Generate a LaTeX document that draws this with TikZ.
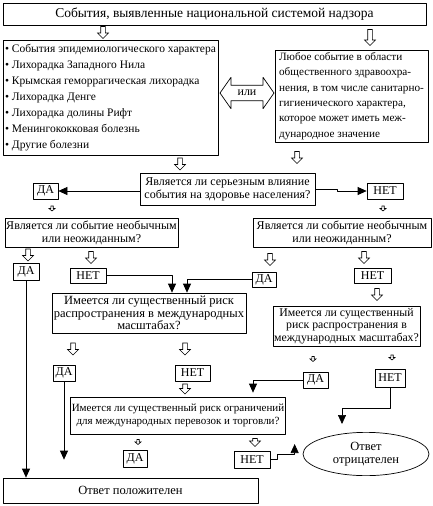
\documentclass[tikz,border=0pt]{standalone}
\usepackage{fontspec}
\setmainfont{Liberation Serif}
\usetikzlibrary{arrows.meta,calc,shapes.arrows,shapes.geometric}

\tikzset{
  box/.style={draw,line width=0.7pt,inner sep=1pt,align=center,font=\fontsize{12}{13}\selectfont},
  ans/.style={box,font=\fontsize{12}{12}\selectfont},
  arr/.style={line width=0.7pt,-{Triangle[length=9pt,width=8pt]}},
  hollow/.style={draw,line width=0.6pt,fill=white,line join=miter},
}

% hollow arrow: length, shaft, head width, head length, x, from, to
\newcommand{\hollowarr}[7]{%
  \path ($(#5,0 |- #6.south)!0.5!(#5,0 |- #7.north)$) coordinate (hmid);
  \draw[hollow,shift={(hmid)}] (-#2,-#1/2) -- (#2,-#1/2) -- (#2,#1/2-#4) -- (#3,#1/2-#4)
    -- (0,#1/2) -- (-#3,#1/2-#4) -- (-#2,#1/2-#4) -- cycle;}
\newcommand{\hollowdown}[4][12]{\hollowarr{#1}{2.3}{5.5}{5.5}{#2}{#3}{#4}}
\newcommand{\hollowsmall}[3]{\hollowarr{5}{1.2}{3}{2.5}{#1}{#2}{#3}}

\begin{document}
\begin{tikzpicture}[x=1pt,y=-1pt,line cap=round,line join=round]
  \useasboundingbox (0,0) rectangle (433,506);

  % top part
  \node[box,minimum width=423pt,minimum height=22pt,font=\fontsize{13.5}{14}\selectfont] (top) at (214.5,14) {События, выявленные национальной системой надзора};
  \node[box,minimum width=215pt,minimum height=115pt,align=left,font=\fontsize{11.5}{16}\selectfont] (list) at (110.5,97.5)
    {• События эпидемиологического характера\\
     • Лихорадка Западного Нила\\
     • Крымская геморрагическая лихорадка\\
     • Лихорадка Денге\\
     • Лихорадка долины Рифт\\
     • Менингококковая болезнь\\
     • Другие болезни};
  \node[box,minimum width=153pt,minimum height=92pt,align=left,font=\fontsize{11.2}{15.3}\selectfont] (rbox) at (351.5,96)
    {Любое событие в области\\
     общественного здравоохра-\\
     нения, в том числе санитарно-\\
     гигиенического характера,\\
     которое может иметь меж-\\
     дународное значение};
  \node[double arrow,draw,line width=0.7pt,minimum height=54pt,double arrow head extend=8pt,
    double arrow tip angle=110,inner sep=4.5pt,font=\fontsize{12}{12}\selectfont] (ili) at (247,93) {или};

  % questions
  \node[box,minimum width=175pt,minimum height=32pt] (q1) at (227.5,189) {Является ли серьезным влияние\\события на здоровье населения?};
  \node[ans,minimum width=25pt,minimum height=16pt] (da1) at (45.5,191) {ДА};
  \node[ans,minimum width=36pt,minimum height=16pt] (net1) at (385,191) {НЕТ};
  \node[box,minimum width=173pt,minimum height=29pt] (q2L) at (91.5,232.5) {Является ли событие необычным\\или неожиданным?};
  \node[box,minimum width=178pt,minimum height=29pt] (q2R) at (342,232.5) {Является ли событие необычным\\или неожиданным?};
  \node[ans,minimum width=26pt,minimum height=17pt] (da2) at (26,271.5) {ДА};
  \node[ans,minimum width=36pt,minimum height=15pt] (net2) at (88,275.5) {НЕТ};
  \node[ans,minimum width=24pt,minimum height=15pt] (da3) at (264,279.5) {ДА};
  \node[ans,minimum width=37pt,minimum height=15pt] (net3) at (372.5,275.5) {НЕТ};
  \node[box,minimum width=194pt,minimum height=40pt,font=\fontsize{12.5}{12.8}\selectfont] (q3M) at (149,313) {Имеется ли существенный риск\\распространения в международных\\масштабах?};
  \node[box,minimum width=145pt,minimum height=40pt,font=\fontsize{11.8}{12.6}\selectfont] (q3R) at (346.5,326) {Имеется ли существенный\\риск распространения в\\международных масштабах?};
  \node[ans,minimum width=22pt,minimum height=16pt] (da4) at (64,373) {ДА};
  \node[ans,minimum width=35pt,minimum height=16pt] (net4) at (192.5,373) {НЕТ};
  \node[ans,minimum width=25pt,minimum height=16pt] (da5) at (315.5,380) {ДА};
  \node[ans,minimum width=30pt,minimum height=18pt] (net5) at (390,378) {НЕТ};
  \node[box,minimum width=210pt,minimum height=37pt,font=\fontsize{11}{12.5}\selectfont] (q4) at (178,415.5) {Имеется ли существенный риск ограничений\\для международных перевозок и торговли?};
  \node[ans,minimum width=24pt,minimum height=17pt] (da6) at (135,458.5) {ДА};
  \node[ans,minimum width=36pt,minimum height=17pt] (net6) at (252,459.5) {НЕТ};
  \node[ellipse,draw,line width=0.7pt,minimum width=126pt,minimum height=43pt,align=center,
    font=\fontsize{12.5}{13}\selectfont] (otr) at (366,454) {Ответ\\отрицателен};
  \node[box,minimum width=255pt,minimum height=25pt,font=\fontsize{12.5}{13}\selectfont] (pos) at (130.5,490.5) {Ответ положителен};

  % hollow arrows
  \hollowdown{103}{top}{list}
  \hollowdown[16]{370}{top}{rbox}
  \hollowdown{180}{list}{q1}
  \hollowdown{297}{rbox}{q1}
  \hollowsmall{52}{da1}{q2L}
  \hollowsmall{383}{net1}{q2R}
  \hollowdown{28}{q2L}{da2}
  \hollowdown{91}{q2L}{net2}
  \hollowdown{270}{q2R}{da3}
  \hollowdown{364}{q2R}{net3}
  \hollowdown{377}{net3}{q3R}
  \hollowdown{73}{q3M}{da4}
  \hollowdown{185}{q3M}{net4}
  \hollowsmall{313}{q3R}{da5}
  \hollowsmall{392}{q3R}{net5}
  \hollowdown[10]{185}{net4}{q4}
  \hollowsmall{138}{q4}{da6}
  \hollowdown[8]{255}{q4}{net6}

  % filled arrows
  \draw[arr] (q1.west |- da1.east) -- (da1.east);
  \draw[arr] (q1.east) -- ++(22,0) |- (net1.west);
  \draw[arr] (da2.south) -- (da2.south |- pos.north);
  \draw[arr] (net2.east) -| ($(q3M.north)+(23,0)$);
  \draw[arr] (da3.west) -| ($(q3M.north)+(38,0)$);
  \draw[arr] (da4.south) -- ($(da4.south |- pos.north)+(0,-18)$);
  \draw[arr] (da5.west) -| ($(q4.north)+(75,-4)$);
  \draw[arr] (net5.south) -- ++(0,21) -| ($(otr.north)+(-24,-8)$);
  \draw[arr] (net6.east) -- ++(7,0) |- ($(otr.west)+(-8,0)$) -- ($(otr.west)+(-8,-10)$);
\end{tikzpicture}
\end{document}
